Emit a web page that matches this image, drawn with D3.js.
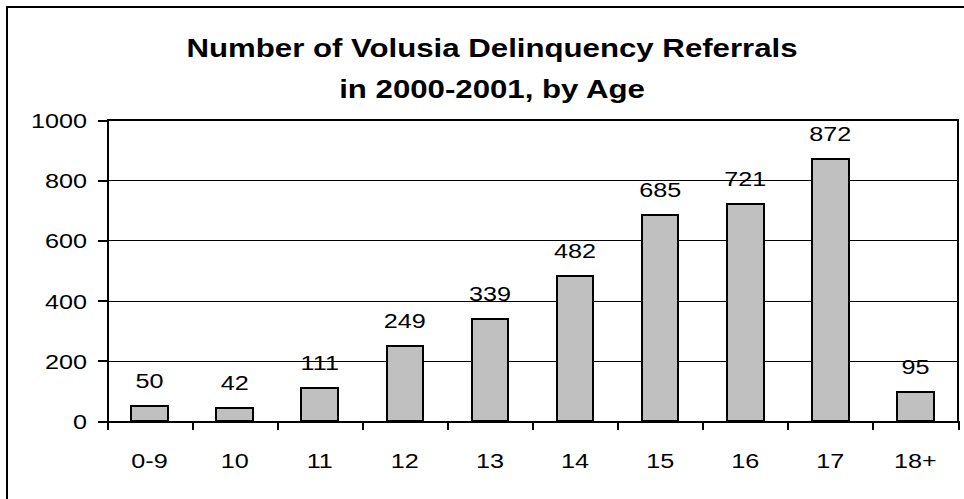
<!DOCTYPE html>
<html>
<head>
<meta charset="utf-8">
<script src="https://cdn.jsdelivr.net/npm/d3@7"></script>
<style>
  html, body { margin: 0; padding: 0; background: #fff; }
  svg { display: block; }
  svg text { font-family: "Liberation Sans", Arial, Helvetica, sans-serif; }
  svg line, svg rect, svg path { shape-rendering: crispEdges; }
</style>
</head>
<body>
<svg id="chart" width="964" height="499"></svg>
<script>
// Referral counts by age group
const ages = ["0-9", "10", "11", "12", "13", "14", "15", "16", "17", "18+"];
const referrals = [50, 42, 111, 249, 339, 482, 685, 721, 872, 95];
const yTicks = [0, 200, 400, 600, 800, 1000];
const titleLines = ["Number of Volusia Delinquency Referrals", "in 2000-2001, by Age"];

const FONT = "Liberation Sans, Arial, Helvetica, sans-serif";
const svg = d3.select("#chart");
const plot = { left: 107, right: 958, top: 120, bottom: 421 };
const stretch = 1.2;   // text is drawn horizontally widened

// outer chart frame
svg.append("rect")
  .attr("x", 7).attr("y", 7)
  .attr("width", 1000).attr("height", 600)
  .attr("fill", "#fff").attr("stroke", "#000").attr("stroke-width", 2);

const x = d3.scaleBand().domain(ages).range([plot.left, plot.right]).padding(0);
const xEdge = d3.scaleLinear().domain([0, ages.length]).range([plot.left, plot.right]);
const y = d3.scaleLinear().domain([0, 1000]).range([plot.bottom, plot.top]);

// horizontal gridlines
svg.append("g").selectAll("line")
  .data(yTicks.filter(t => t > 0 && t < 1000))
  .join("line")
  .attr("x1", plot.left).attr("x2", plot.right)
  .attr("y1", d => Math.round(y(d)) + 0.5).attr("y2", d => Math.round(y(d)) + 0.5)
  .attr("stroke", "#000").attr("stroke-width", 1);

// plot frame top and right
svg.append("path")
  .attr("d", `M${plot.left},${y(1000)}H${plot.right}V${plot.bottom}`)
  .attr("fill", "none").attr("stroke", "#000").attr("stroke-width", 2);

// bars
const barW = x.bandwidth() * 0.43;
svg.append("g").selectAll("rect")
  .data(ages.map((a, i) => ({ a, v: referrals[i] })))
  .join("rect")
  .attr("x", d => x(d.a) + (x.bandwidth() - barW) / 2)
  .attr("y", d => y(d.v))
  .attr("width", barW)
  .attr("height", d => y(0) - y(d.v))
  .attr("fill", "#c0c0c0").attr("stroke", "#000").attr("stroke-width", 2);

// value labels
svg.append("g").selectAll("text")
  .data(ages.map((a, i) => ({ a, v: referrals[i] })))
  .join("text")
  .attr("transform", d => `translate(${x(d.a) + x.bandwidth() / 2},${y(d.v) - 18}) scale(${stretch},1)`)
  .attr("text-anchor", "middle")
  .attr("font-family", FONT)
  .attr("font-size", 21)
  .attr("fill", "#000")
  .text(d => d.v);

// y axis
const yAxis = svg.append("g")
  .attr("transform", `translate(${plot.left},0)`)
  .call(d3.axisLeft(y).tickValues(yTicks).tickFormat(d3.format("d"))
    .tickSize(9).tickSizeOuter(0).tickPadding(0));
yAxis.attr("font-family", FONT).attr("font-size", 21);
yAxis.select(".domain").attr("stroke", "#000").attr("stroke-width", 2);
yAxis.selectAll(".tick line").attr("stroke", "#000").attr("stroke-width", 2);
yAxis.selectAll(".tick text")
  .attr("x", null).attr("dy", null)
  .attr("transform", `translate(-20,7.5) scale(${stretch},1)`)
  .attr("fill", "#000");

// x axis: ticks at category boundaries
const xTicks = svg.append("g")
  .attr("transform", `translate(0,${plot.bottom})`)
  .call(d3.axisBottom(xEdge).tickValues(d3.range(ages.length + 1)).tickSize(9).tickSizeOuter(0).tickFormat(""));
xTicks.select(".domain").attr("stroke", "#000").attr("stroke-width", 2);
xTicks.selectAll(".tick line").attr("stroke", "#000").attr("stroke-width", 2);

// x axis category labels
const xLabels = svg.append("g")
  .attr("transform", `translate(0,${plot.bottom})`)
  .call(d3.axisBottom(x).tickSize(0).tickPadding(0));
xLabels.attr("font-family", FONT).attr("font-size", 21);
xLabels.select(".domain").remove();
xLabels.selectAll(".tick text")
  .attr("y", null).attr("dy", null)
  .attr("transform", `translate(0,47) scale(${stretch},1)`)
  .attr("fill", "#000");

// title
svg.append("g").selectAll("text")
  .data(titleLines)
  .join("text")
  .attr("transform", (d, i) => `translate(492,${57 + i * 41}) scale(${stretch},1)`)
  .attr("text-anchor", "middle")
  .attr("font-family", FONT)
  .attr("font-size", 26).attr("font-weight", "bold")
  .attr("fill", "#000")
  .text(d => d);
</script>
</body>
</html>
